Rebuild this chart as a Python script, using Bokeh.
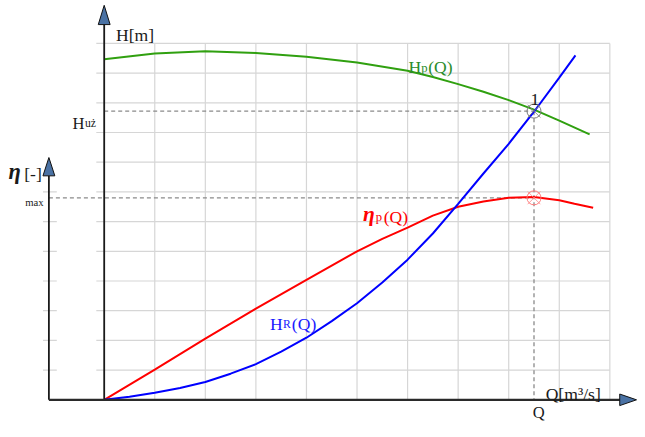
from bokeh.plotting import figure
from bokeh.models import Range1d
from bokeh.core.properties import value
from bokeh.embed import file_html
from bokeh.resources import INLINE

# ---------------- data (grid units: 1 unit = one grid cell) ----------------
q_hp = [0, 1, 2, 3, 4, 5, 6, 6.5, 7, 7.5, 8, 8.5, 9, 9.6]
h_hp = [11.47, 11.66, 11.74, 11.68, 11.55, 11.36, 11.08, 10.87, 10.63, 10.37, 10.09, 9.77, 9.4, 8.94]

q_hr = [0, 0.5, 1, 1.5, 2, 2.5, 3, 3.5, 4, 4.5, 5, 5.5, 6, 6.5, 7, 7.5, 8, 8.5, 9, 9.32]
h_hr = [0, 0.1, 0.24, 0.4, 0.6, 0.88, 1.2, 1.62, 2.09, 2.65, 3.25, 3.95, 4.72, 5.6, 6.6, 7.62, 8.62, 9.7, 10.85, 11.6]

q_eta = [0, 1, 2, 3, 4, 5, 5.5, 6, 6.5, 7, 7.5, 8, 8.5, 9, 9.3, 9.67]
eta_p = [0, 1.02, 2.06, 3.07, 4.04, 5.0, 5.42, 5.8, 6.2, 6.5, 6.68, 6.8, 6.83, 6.72, 6.6, 6.47]

q_op = 8.5       # operating flow Q
h_uz = 9.72      # useful head H_uz
eta_max = 6.8    # max efficiency

grid_q = list(range(1, 11))
grid_h = list(range(1, 13))
eta_ticks = list(range(1, 8))

# ---------------- layout mapping (reference picture is 645 x 437) ----------------
W, HGT = 637, 421
REF_W, REF_H = 645, 437
FS = 0.975                      # font scale to suit the slightly smaller canvas
OX, SX = 105.0, 51.2
OY, SY = 414.5, 30.83
def qx(px):
    return (px - OX) / SX
def hy(py):
    return (OY - py) / SY

p = figure(width=W, height=HGT, x_range=Range1d(qx(0), qx(REF_W)),
           y_range=Range1d(hy(REF_H), hy(0)), output_backend="svg",
           toolbar_location=None, min_border=0)
p.axis.visible = False
p.grid.visible = False
p.outline_line_color = None
p.background_fill_color = "white"
p.border_fill_color = "white"

GRID = "#d6d6d6"
# grid
p.segment(x0=[qx(97)] * len(grid_h), y0=grid_h, x1=[grid_q[-1]] * len(grid_h), y1=grid_h,
          line_color=GRID, line_width=1.2)
p.segment(x0=grid_q, y0=[0] * len(grid_q), x1=grid_q, y1=[grid_h[-1]] * len(grid_q),
          line_color=GRID, line_width=1.2)
ETA_AX = qx(49)
p.segment(x0=[qx(43)] * len(eta_ticks), y0=eta_ticks, x1=[qx(57)] * len(eta_ticks), y1=eta_ticks,
          line_color=GRID, line_width=1.2)

# dashed guides
DASH = "#8a8a8a"
p.line([0, q_op], [h_uz, h_uz], line_color=DASH, line_dash="4 3", line_width=1.3)
p.line([q_op, q_op], [h_uz, 0], line_color=DASH, line_dash="4 3", line_width=1.3)
p.line([ETA_AX, q_op], [eta_max, eta_max], line_color=DASH, line_dash="4 3", line_width=1.3)

# curves
p.line(q_hp, h_hp, line_color="#30a010", line_width=2)
p.line(q_eta, eta_p, line_color="#ff0000", line_width=2)
p.line(q_hr, h_hr, line_color="#0000ff", line_width=2)

# axes
p.segment(x0=[0, ETA_AX], y0=[0, 0], x1=[0, ETA_AX], y1=[hy(25), hy(182)],
          line_color="#1a1a1a", line_width=1.8)
p.segment(x0=[ETA_AX], y0=[0], x1=[qx(628)], y1=[0], line_color="#2a2a2a", line_width=2.2)

dq = 6 / SX
dh = 6 / SY
ARROW = "#4a72a4"
p.patches(xs=[[-dq, 0, dq], [ETA_AX - dq, ETA_AX, ETA_AX + dq], [qx(627), qx(644), qx(627)]],
          ys=[[hy(25), hy(5), hy(25)], [hy(182), hy(163), hy(182)], [-dh, 0, dh]],
          fill_color=ARROW, line_color="#111111", line_width=1)

# markers
p.scatter([q_op], [h_uz], marker="circle", size=14, fill_color=None, line_color="#7a7a7a", line_width=1)
p.scatter([q_op], [h_uz], marker="x", size=18, line_color="#7a7a7a", line_width=0.8)
p.scatter([q_op], [eta_max], marker="circle", size=14, fill_color=None, line_color="#ff7a7a", line_width=1)
p.scatter([q_op], [eta_max], marker="x", size=18, line_color="#ff8a8a", line_width=0.8)

FONT = value("Liberation Serif")
def label(xp, yp, txt, size, color="#1a1a1a", style="normal", align="left"):
    p.text(x=[qx(xp)], y=[hy(yp)], text=[txt], text_font=FONT,
           text_font_size=f"{size * FS:.1f}px",
           text_color=color, text_font_style=style, text_baseline="alphabetic", text_align=align)

# axis labels
label(117, 36, "H[m]", 18)
label(73, 128, "H", 17)
label(85.5, 128, "uż", 12)
label(8, 177, "η", 23, style="bold italic")
label(24, 180, "[-]", 18)
label(25, 209, "max", 11)
label(552, 408, "Q[m³/s]", 18)
label(545, 428, "Q", 17, align="center")
label(541, 103, "1", 18, align="center")

# curve labels
GREEN_T = "#2a8c2a"
label(413, 69, "H", 18, GREEN_T)
label(426, 70, "p", 13, GREEN_T)
label(433, 69, "(Q)", 18, GREEN_T)

label(367, 222, "η", 22, "#ff0000", style="bold italic")
label(380, 225, "p", 13, "#ff0000")
label(388, 225, "(Q)", 18, "#ff0000")

BLUE_T = "#1a1aff"
label(273, 336, "H", 18, BLUE_T)
label(286, 336, "R", 12, BLUE_T)
label(295, 336, "(Q)", 18, BLUE_T)

open("out.html", "w").write(file_html(p, INLINE))
